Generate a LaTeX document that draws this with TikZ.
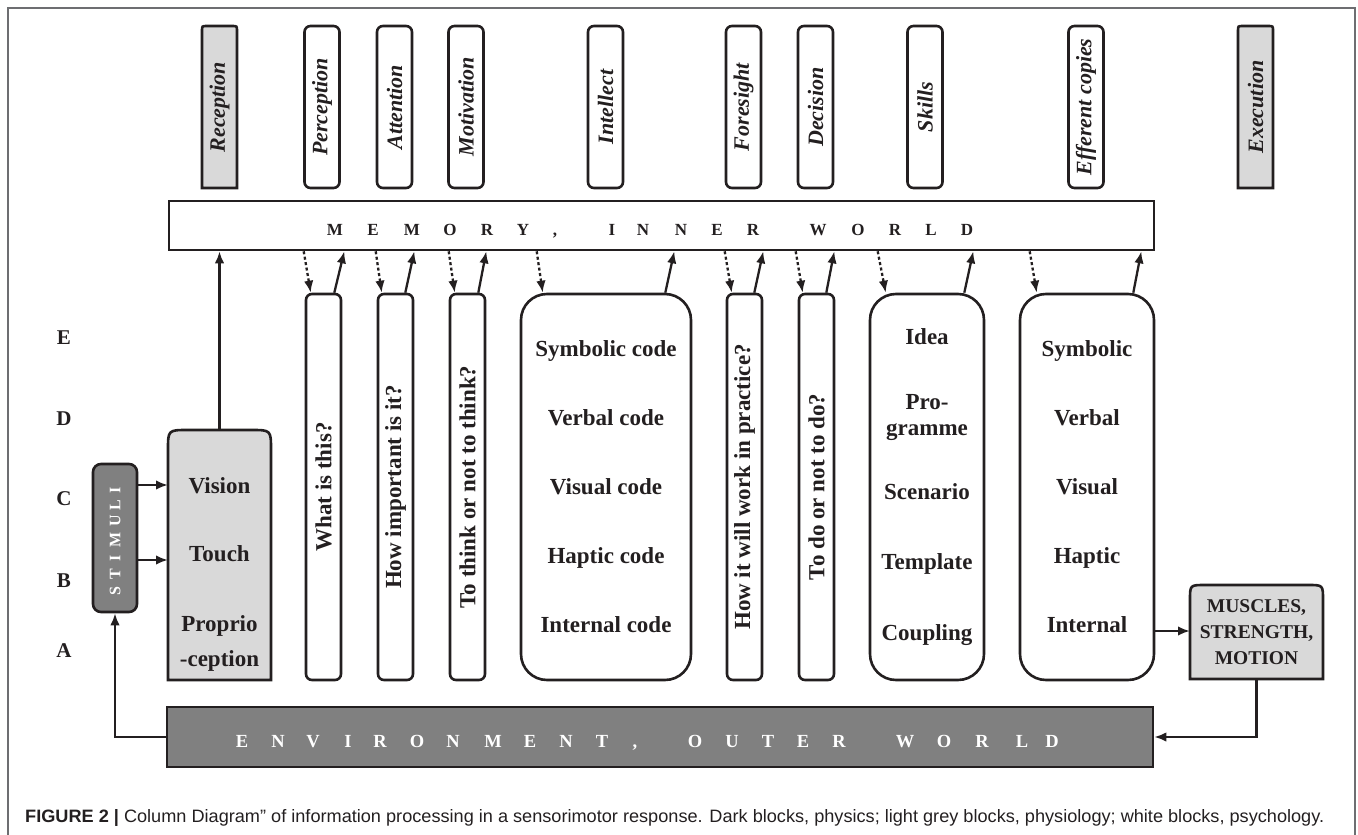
\documentclass[tikz,border=0pt]{standalone}
\usepackage{fontspec}
\setmainfont{Liberation Serif}
\newfontfamily\capfont{Liberation Sans}
\usetikzlibrary{arrows.meta,backgrounds}

\definecolor{ink}{HTML}{231F20}
\definecolor{physics}{HTML}{808080}
\definecolor{physio}{HTML}{D9D9D9}
\definecolor{framegray}{HTML}{6D6E71}

% outline of a block with rounded top corners and square bottom corners
\newcommand\TopRound[3]{%
  \path[ln, fill=#3] (#1.south west) -- ([yshift=-#2]#1.north west)
    .. controls (#1.north west) .. ([xshift=#2]#1.north west)
    -- ([xshift=-#2]#1.north east)
    .. controls (#1.north east) .. ([yshift=-#2]#1.north east)
    -- (#1.south east) -- cycle;}

\begin{document}
\begin{tikzpicture}[x=1pt, y=-1pt,
  ln/.style={draw=ink, line width=2.6pt},
  hdr/.style={ln, fill=white, rounded corners=6pt, inner sep=0pt,
    minimum width=35pt, minimum height=162pt, text=ink,
    font=\bfseries\itshape\fontsize{22}{26}\selectfont},
  hdrp/.style={inner sep=0pt, outer sep=0pt, minimum width=35pt,
    minimum height=162pt, text=ink,
    font=\bfseries\itshape\fontsize{22}{26}\selectfont},
  col/.style={ln, fill=white, rounded corners=6pt, inner sep=0pt,
    minimum width=35pt, minimum height=386pt, text=ink,
    font=\bfseries\fontsize{23}{27}\selectfont},
  big/.style={ln, fill=white, rounded corners=26pt, inner sep=0pt,
    minimum height=386pt, align=center, text=ink,
    font=\bfseries\fontsize{23}{69}\selectfont},
  shp/.style={inner sep=0pt, outer sep=0pt},
  dark/.style={ln, fill=physics, inner sep=0pt},
  memch/.style={anchor=base, inner sep=0pt, text=ink,
    font=\bfseries\fontsize{17}{20}\selectfont},
  envch/.style={anchor=base, inner sep=0pt, text=white,
    font=\bfseries\fontsize{18.5}{22}\selectfont},
  stimch/.style={rotate=90, inner sep=0pt, text=white, text height=10.5pt,
    text depth=0pt, font=\bfseries\fontsize{16}{18}\selectfont},
  rowlbl/.style={anchor=base, inner sep=0pt, text=ink,
    font=\bfseries\fontsize{21}{24}\selectfont},
  arr/.style={draw=ink, line width=2.3pt, -{Latex[length=12pt,width=9.5pt]}},
  dotarr/.style={arr, dash pattern=on 3pt off 2.5pt}
]
\useasboundingbox (0,0) rectangle (1358,835);

% figure frame
\draw[framegray, line width=1.6pt] (8,835) -- (8,8) -- (1355,8) -- (1355,835);

% function headers
\node[hdrp] (hRec) at (219.5,107) {\rotatebox{90}{Reception}};
\node[hdr]  (hPer) at (322,107)   {\rotatebox{90}{Perception}};
\node[hdr]  (hAtt) at (394.5,107) {\rotatebox{90}{Attention}};
\node[hdr]  (hMot) at (466,107)   {\rotatebox{90}{Motivation}};
\node[hdr]  (hInt) at (605.5,107) {\rotatebox{90}{Intellect}};
\node[hdr]  (hFor) at (743.5,107) {\rotatebox{90}{Foresight}};
\node[hdr]  (hDec) at (815.5,107) {\rotatebox{90}{Decision}};
\node[hdr]  (hSki) at (925,107)   {\rotatebox{90}{Skills}};
\node[hdr]  (hEff) at (1086,107)  {\rotatebox{90}{Efferent copies}};
\node[hdrp] (hExe) at (1255.5,107){\rotatebox{90}{Execution}};

% memory, inner world
\node[ln, fill=white, inner sep=0pt, minimum width=985pt, minimum height=49pt]
  (mem) at (661.5,225.5) {};
\foreach \x/\c [count=\i] in {335/M,373/E,412/M,450/O,487/R,523/Y,555/{,},
    612/I,643/N,681/N,717/E,753/R,818/W,858/O,895/R,931/L,967/D}
  \node[memch] (memL\i) at (\x,235) {\c};

% level letters
\foreach \y/\c in {344/E,425/D,505/C,587/B,657/A}
  \node[rowlbl] (lvl\c) at (64,\y) {\c};

% stimuli
\node[dark, rounded corners=8pt, minimum width=44pt, minimum height=148pt]
  (stim) at (115,538) {};
\foreach \y/\c [count=\i] in {591/S,574/T,558/I,540/M,521/U,505/L,490/I}
  \node[stimch] (stimL\i) at (115,\y) {\c};

% receptors
\node[shp, minimum width=103pt, minimum height=250pt] (recv) at (219.5,555) {};
\node[align=center, text=ink, inner sep=0pt,
  font=\bfseries\fontsize{23}{35}\selectfont] (recvtxt) at (219.5,574)
  {Vision\\[33pt]Touch\\[35pt]Proprio\\-ception};

% processing columns
\node[col] (cWhat)  at (323.5,487) {\rotatebox{90}{What is this?}};
\node[col] (cHow)   at (395.5,487) {\rotatebox{90}{How important is it?}};
\node[col] (cThink) at (467.5,487) {\rotatebox{90}{To think or not to think?}};
\node[big, minimum width=170pt] (cInt) at (606,487)
  {Symbolic code\\Verbal code\\Visual code\\Haptic code\\Internal code};
\node[col] (cFore)  at (744.5,487) {\rotatebox{90}{How it will work in practice?}};
\node[col] (cDec)   at (816.5,487) {\rotatebox{90}{To do or not to do?}};
\node[big, minimum width=114pt, font=\bfseries\fontsize{23}{26}\selectfont]
  (cSki) at (927,487)
  {Idea\\[39pt]Pro-\\gramme\\[38pt]Scenario\\[44pt]Template\\[45pt]Coupling};
\node[big, minimum width=134pt] (cEff) at (1087,487)
  {Symbolic\\Verbal\\Visual\\Haptic\\Internal};

% effectors
\node[shp, minimum width=133pt, minimum height=94pt, align=center, text=ink,
  font=\bfseries\fontsize{19.5}{26}\selectfont] (musc) at (1256.5,632)
  {MUSCLES,\\STRENGTH,\\MOTION};

% environment, outer world
\node[dark, minimum width=986pt, minimum height=60pt] (env) at (660,737) {};
\foreach \x/\c [count=\i] in {242/E,278/N,313/V,348/I,380/R,417/O,453/N,493/M,
    530/E,566/N,602/T,635/{,},695/O,732/U,768/T,803/E,839/R,
    905/W,944/O,982/R,1022/L,1052/D}
  \node[envch] (envL\i) at (\x,747) {\c};

% physiology blocks: rounded top, square bottom
\begin{scope}[on background layer]
  \TopRound{hRec}{5pt}{physio}
  \TopRound{hExe}{5pt}{physio}
  \TopRound{recv}{20pt}{physio}
  \TopRound{musc}{15pt}{physio}
\end{scope}

% connectors
\coordinate (yV) at (0,485);
\coordinate (yT) at (0,560);
\coordinate (yI) at (0,631);
\draw[arr] (recv.north) -- (recv.north |- mem.south);
\draw[arr] (stim.east |- yV) -- (recv.west |- yV);
\draw[arr] (stim.east |- yT) -- (recv.west |- yT);
\draw[arr] (cEff.east |- yI) -- (musc.west |- yI);
\draw[arr] (musc.south) |- (env.east);
\draw[arr] (env.west) -| (stim.south);

\foreach \n/\da/\db/\sa/\sb in {cWhat/-1/6/-8/2, cHow/-1/5/-9/0,
    cThink/0/6/-8/0, cInt/17/23/-27/-18, cFore/-1/6/-9/0,
    cDec/-2/5/-9/-1, cSki/9/17/-21/-12, cEff/11/18/-22/-14}{
  \draw[dotarr] ([xshift=\da pt]\n.north west |- mem.south)
    -- ([xshift=\db pt]\n.north west);
  \draw[arr] ([xshift=\sa pt]\n.north east)
    -- ([xshift=\sb pt]\n.north east |- mem.south);
}

% caption
\node[anchor=base west, inner sep=0pt, text=ink] (cap) at (25,822)
  {\resizebox{1299pt}{13pt}{\capfont\textbf{FIGURE 2 |} Column Diagram”
   of information processing in a sensorimotor response. Dark blocks,
   physics; light grey blocks, physiology; white blocks, psychology.}};
\end{tikzpicture}
\end{document}
